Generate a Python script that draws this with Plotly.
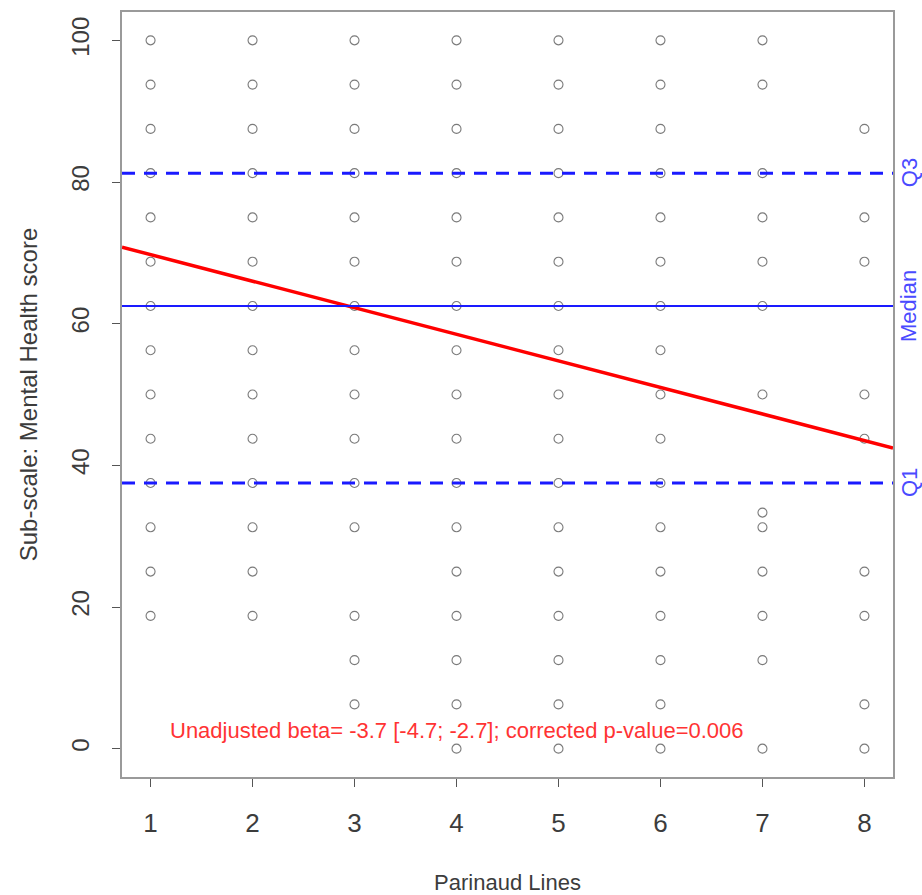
import plotly.graph_objects as go

# ---------------- data ----------------
parinaud_lines = [1, 2, 3, 4, 5, 6, 7, 8]
scores_1 = [100, 93.75, 87.5, 81.25, 75, 68.75, 62.5, 56.25, 50, 43.75, 37.5, 31.25, 25, 18.75]
scores_2 = [100, 93.75, 87.5, 81.25, 75, 68.75, 62.5, 56.25, 50, 43.75, 37.5, 31.25, 25, 18.75]
scores_3 = [100, 93.75, 87.5, 81.25, 75, 68.75, 62.5, 56.25, 50, 43.75, 37.5, 31.25, 18.75, 12.5, 6.25]
scores_4 = [100, 93.75, 87.5, 81.25, 75, 68.75, 62.5, 56.25, 50, 43.75, 37.5, 31.25, 25, 18.75, 12.5, 6.25, 0]
scores_5 = [100, 93.75, 87.5, 81.25, 75, 68.75, 62.5, 56.25, 50, 43.75, 37.5, 31.25, 25, 18.75, 12.5, 6.25, 0]
scores_6 = [100, 93.75, 87.5, 81.25, 75, 68.75, 62.5, 56.25, 50, 43.75, 37.5, 31.25, 25, 18.75, 12.5, 6.25, 0]
scores_7 = [100, 93.75, 81.25, 75, 68.75, 62.5, 50, 33.33, 31.25, 25, 18.75, 12.5, 0]
scores_8 = [87.5, 75, 68.75, 50, 43.75, 25, 18.75, 6.25, 0]

q1_value = 37.5
median_value = 62.5
q3_value = 81.25
reg_intercept = 73.5
reg_slope = -3.75

x_ticks = [1, 2, 3, 4, 5, 6, 7, 8]
y_ticks = [0, 20, 40, 60, 80, 100]
x_range = [0.72, 8.28]
y_range = [-4, 104]

annotation_text = "Unadjusted beta= -3.7 [-4.7; -2.7]; corrected p-value=0.006"
annotation_pos = (4, 2.5)

# ---------------- figure ----------------
all_scores = [scores_1, scores_2, scores_3, scores_4, scores_5, scores_6, scores_7, scores_8]
px, py = [], []
for xv, col in zip(parinaud_lines, all_scores):
    px += [xv] * len(col)
    py += col

FONT = "Liberation Sans, Arial, sans-serif"
TXT = "#3c3c3c"
BLUE = "#1a1aff"

fig = go.Figure()

fig.add_trace(go.Scatter(
    x=px, y=py, mode="markers",
    marker=dict(symbol="circle-open", size=9, color="#7a7a7a", line=dict(width=1.1, color="#7a7a7a")),
    showlegend=False, hoverinfo="x+y",
))

# horizontal reference lines (abline style)
for val, dash, width in [(q3_value, "13px,9px", 3), (median_value, "solid", 2), (q1_value, "13px,9px", 3)]:
    fig.add_shape(type="line", xref="paper", x0=0, x1=1, yref="y", y0=val, y1=val,
                  line=dict(color=BLUE, width=width, dash=dash), layer="above")

# regression line over full x range
fig.add_trace(go.Scatter(
    x=x_range, y=[reg_intercept + reg_slope * x for x in x_range],
    mode="lines", line=dict(color="#ff0000", width=3.5), showlegend=False, hoverinfo="skip",
))

# right side labels
for val, lab in [(q3_value, "Q3"), (median_value, "Median"), (q1_value, "Q1")]:
    fig.add_annotation(x=1, xref="paper", y=val, yref="y", text=lab, showarrow=False,
                       textangle=-90, xanchor="center", yanchor="middle", xshift=16,
                       font=dict(family=FONT, size=22, color="#4a4aff"))

fig.add_annotation(x=annotation_pos[0], y=annotation_pos[1], xref="x", yref="y",
                   text=annotation_text, showarrow=False,
                   font=dict(family=FONT, size=22, color="#ff3333"))

axis_common = dict(showgrid=False, zeroline=False, showline=True, mirror=True,
                   linecolor="#9a9a9a", linewidth=1.5, ticks="outside", ticklen=8,
                   tickcolor="#555555", tickwidth=1)

fig.update_xaxes(range=x_range, tickvals=x_ticks, ticktext=[str(v) for v in x_ticks],
                 ticklabelstandoff=14,
                 tickfont=dict(family=FONT, size=26, color=TXT),
                 title=dict(text="Parinaud Lines", font=dict(family=FONT, size=22, color=TXT), standoff=38),
                 **axis_common)
fig.update_yaxes(range=y_range, tickvals=y_ticks, ticktext=[str(v) for v in y_ticks],
                 tickangle=-90, ticklabelstandoff=14,
                 tickfont=dict(family=FONT, size=24, color=TXT),
                 title=dict(text="Sub-scale: Mental Health score", font=dict(family=FONT, size=24, color=TXT), standoff=22),
                 **axis_common)

fig.update_layout(
    width=922, height=895,
    margin=dict(l=122, r=29, t=12, b=118, autoexpand=False),
    plot_bgcolor="white", paper_bgcolor="white",
    font=dict(family=FONT, color=TXT),
)

fig.write_html("out.html", config={"displayModeBar": False},
               post_script="document.body.style.margin='0';document.body.style.overflow='hidden';")
